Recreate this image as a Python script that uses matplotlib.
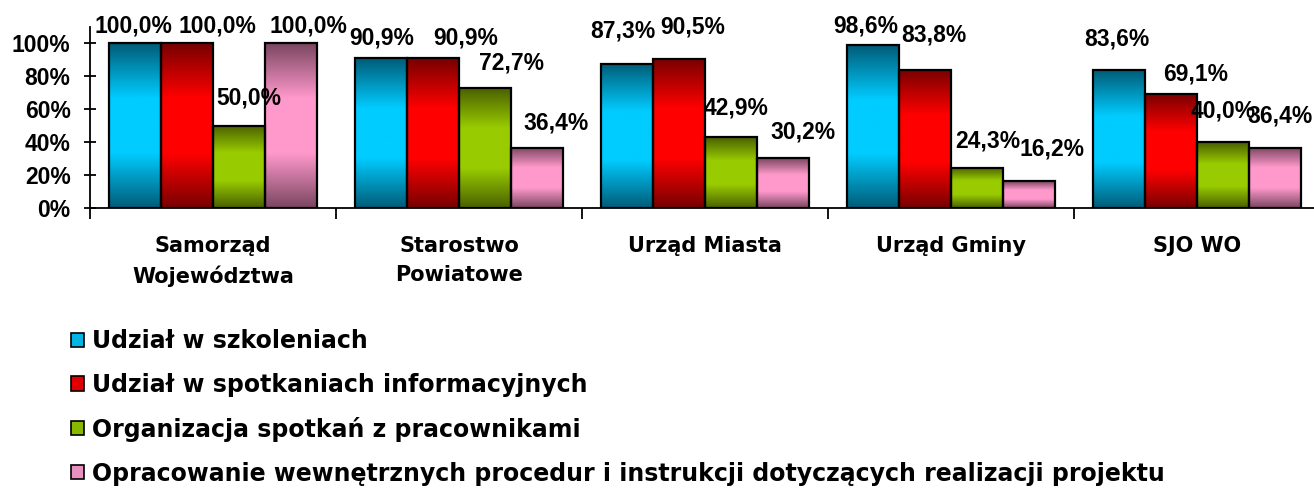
# -*- coding: utf-8 -*-
# Działania informacyjne w urzędach - wykres słupkowy z gradientem
import numpy as np
import matplotlib
matplotlib.use('Agg')
import matplotlib.pyplot as plt
from matplotlib.colors import LinearSegmentedColormap
from matplotlib.ticker import FuncFormatter

# ---------------------------------------------------------------------------
# DANE
# ---------------------------------------------------------------------------
kategorie = ['Samorząd\nWojewództwa', 'Starostwo\nPowiatowe', 'Urząd Miasta',
             'Urząd Gminy', 'SJO WO']
serie = ['Udział w szkoleniach',
         'Udział w spotkaniach informacyjnych',
         'Organizacja spotkań z pracownikami',
         'Opracowanie wewnętrznych procedur i instrukcji dotyczących realizacji projektu']

szkolenia = [1.000, 0.909, 0.873, 0.986, 0.836]
spotkania = [1.000, 0.909, 0.905, 0.838, 0.691]
organizacja = [0.500, 0.727, 0.429, 0.243, 0.400]
procedury = [1.000, 0.364, 0.302, 0.162, 0.364]

# ---------------------------------------------------------------------------
# STYL
# ---------------------------------------------------------------------------
plt.rcParams['font.weight'] = 'bold'
CYFRY = ['Liberation Sans', 'DejaVu Sans']   # liczby
SLOWA = ['DejaVu Sans']                      # opisy i legenda
FS_CYFRY = 16.5

# (ciemny, jasny) dla każdej serii
kolory = [('#005c78', '#00ccff'),
          ('#780000', '#ff0000'),
          ('#4a6000', '#99cc00'),
          ('#7a4660', '#ff99cc')]
kolory_legendy = ['#00b4e4', '#e00000', '#88b800', '#e890c0']

# przesunięcia etykiet (px: dx, dy nad szczytem słupka) - jak w oryginale
przes_etykiet = [
    [(-2, 17), (30, 17), (10, 28), (18, 17)],
    [(1, 20), (33, 20), (27, 25), (19, 25)],
    [(-4, 33), (14, 32), (5, 29), (20, 26)],
    [(-7, 19), (9, 35), (11, 27), (23, 32)],
    [(-2, 31), (25, 20), (0, 31), (5, 32)],
]

dane = [szkolenia, spotkania, organizacja, procedury]

fig = plt.figure(figsize=(13.14, 4.95), dpi=100)
ax = fig.add_axes([90 / 1314, 1 - 208 / 495, 1230 / 1314, 181 / 495])

x = np.arange(len(kategorie))
szer = 0.211
grad = np.linspace(0, 1, 256).reshape(-1, 1)

for i, (wart, (ciemny, jasny)) in enumerate(zip(dane, kolory)):
    cmap = LinearSegmentedColormap.from_list('g%d' % i, [ciemny, jasny, jasny, ciemny])
    pozycje = x + (i - 1.5) * szer
    bary = ax.bar(pozycje, wart, szer, facecolor='none', edgecolor='black',
                  linewidth=1.6, zorder=3)
    for j, b in enumerate(bary):
        x0, x1 = b.get_x(), b.get_x() + b.get_width()
        ax.imshow(grad, extent=[x0, x1, 0, b.get_height()], aspect='auto',
                  cmap=cmap, interpolation='bilinear', zorder=2)
        dx, dy = przes_etykiet[j][i]
        ax.annotate(('%.1f%%' % (wart[j] * 100)).replace('.', ','),
                    xy=(b.get_x() + b.get_width() / 2, b.get_height()),
                    xytext=(dx * 0.72, dy * 0.72), textcoords='offset points',
                    ha='center', va='center', fontsize=FS_CYFRY,
                    fontweight='bold', family=CYFRY,
                    zorder=5, annotation_clip=False)

# legenda (kwadraty w jednolitym kolorze)
for kol, nazwa in zip(kolory_legendy, serie):
    ax.bar([0], [0], color=kol, edgecolor='black', linewidth=1.2, label=nazwa)

ax.set_xlim(-0.5, len(kategorie) - 0.5)
ax.set_ylim(0, 1.097)

for s in ['top', 'right']:
    ax.spines[s].set_visible(False)
ax.spines['left'].set_linewidth(1.3)
ax.spines['bottom'].set_linewidth(1.3)

ax.set_yticks(np.arange(0, 1.01, 0.2))
ax.yaxis.set_major_formatter(FuncFormatter(lambda v, p: '%d%%' % round(v * 100)))
ax.tick_params(axis='y', direction='inout', length=8, width=1.3,
               labelsize=FS_CYFRY, pad=10)
for t in ax.get_yticklabels():
    t.set_family(CYFRY)

ax.set_xticks(np.arange(-0.5, len(kategorie), 1.0))
ax.set_xticklabels([])
ax.tick_params(axis='x', which='major', direction='out', length=8, width=1.3)
ax.set_xticks(x, minor=True)
ax.set_xticklabels(kategorie, minor=True, fontsize=15, fontweight='bold',
                   family=SLOWA, linespacing=1.55)
ax.tick_params(axis='x', which='minor', length=0, pad=20)

fig.legend(loc='upper left', bbox_to_anchor=(71 / 1314, 1 - 329 / 495),
           frameon=False, prop={'family': SLOWA, 'weight': 'bold', 'size': 17},
           ncol=1, handlelength=0.55, handleheight=0.55, handletextpad=0.35,
           labelspacing=0.84, borderaxespad=0, borderpad=0)

fig.savefig('out.png', dpi=100)
